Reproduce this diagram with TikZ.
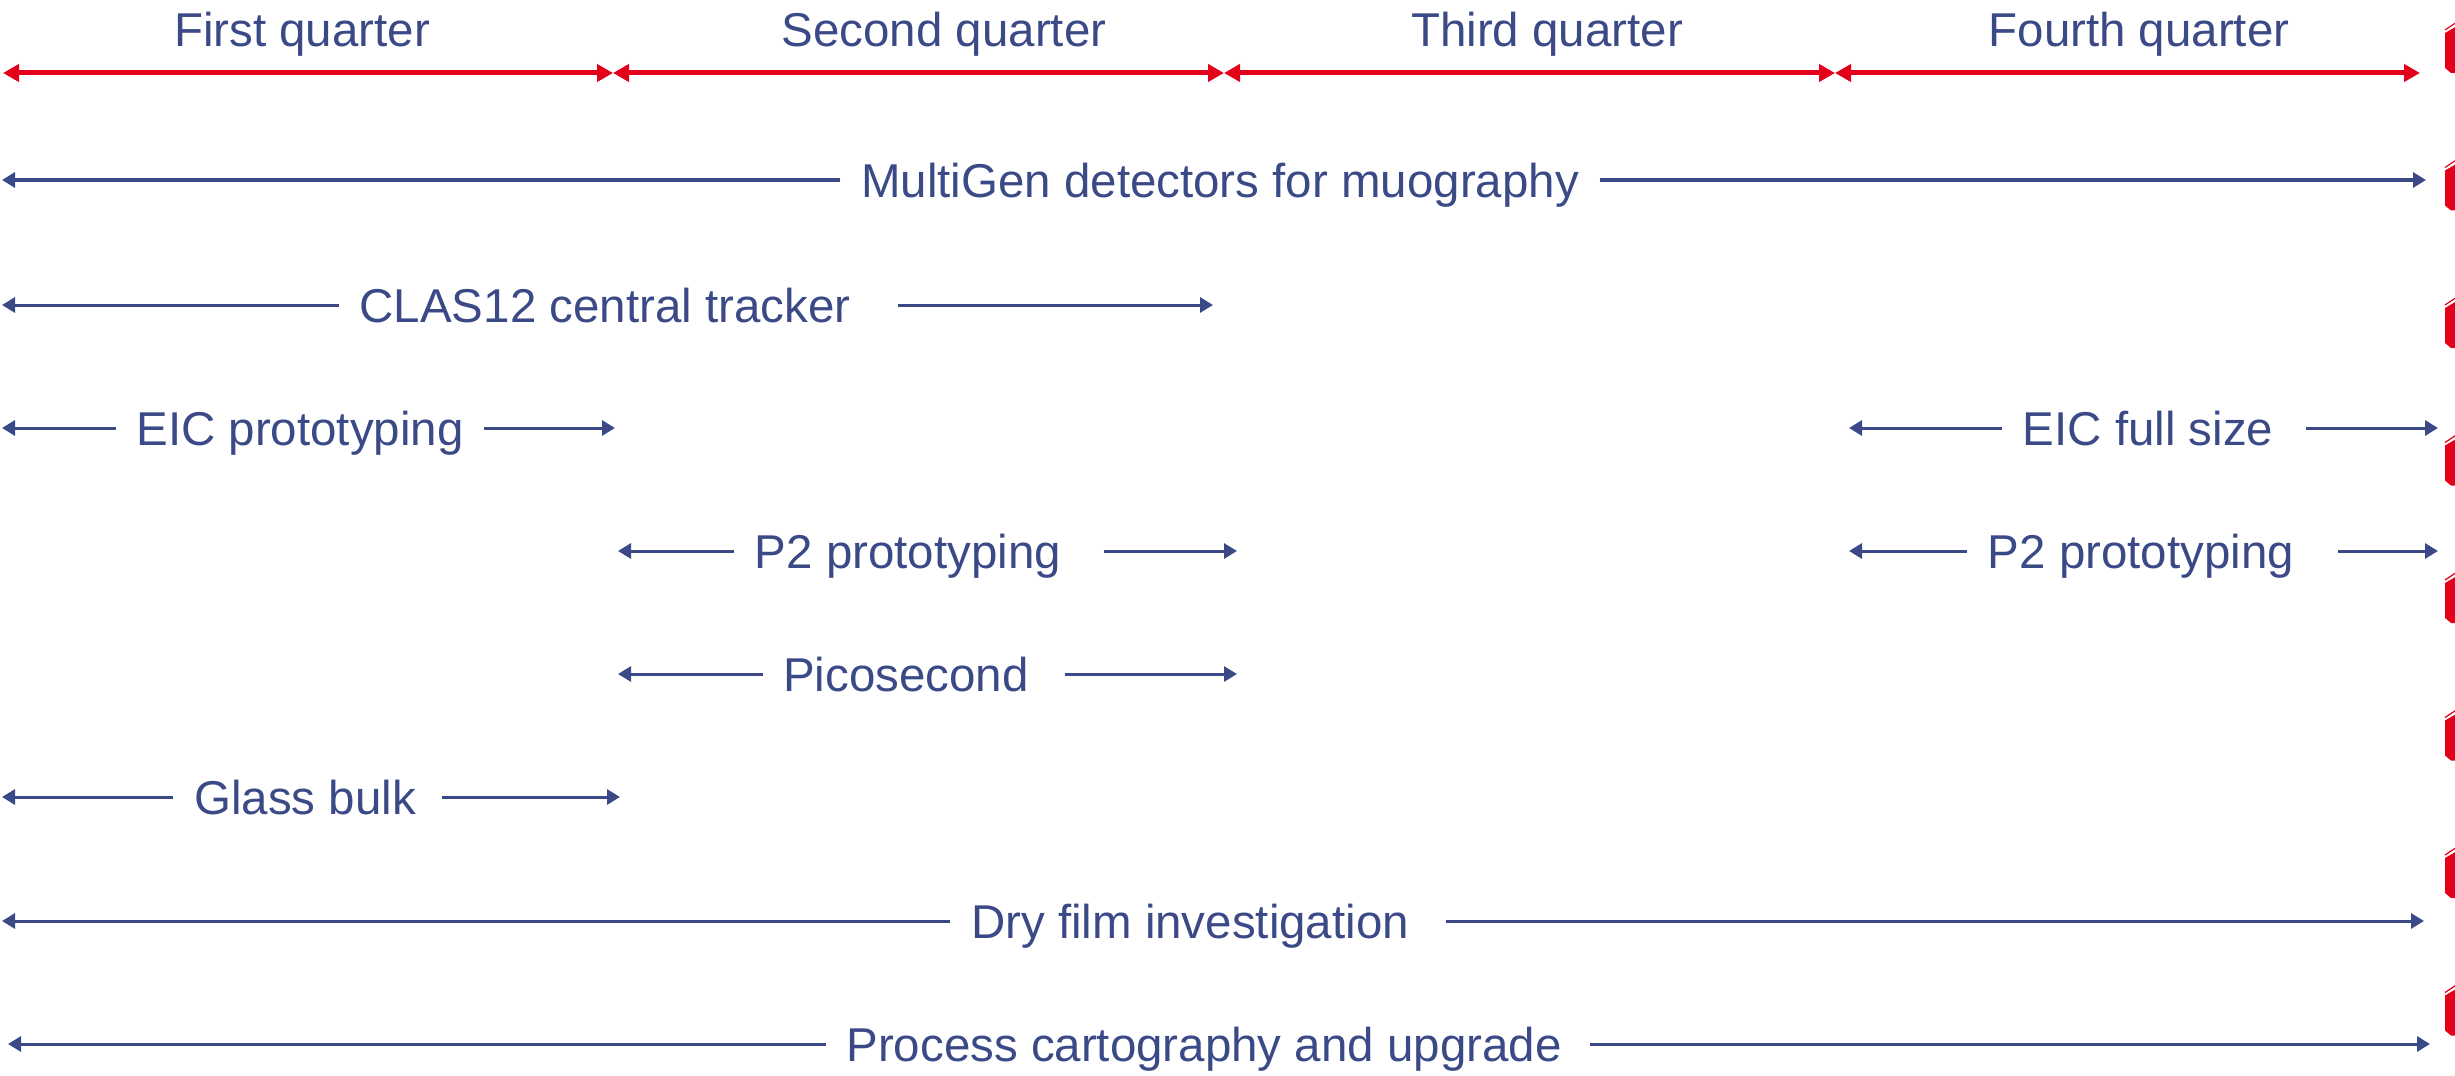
\documentclass[tikz,border=0pt]{standalone}
\usepackage{fontspec}
\setmainfont{Liberation Sans}
\usetikzlibrary{arrows.meta}
\definecolor{tblue}{HTML}{3B4A87}
\definecolor{tred}{HTML}{E2001A}
\newcommand\padr[1]{\rule{#1}{0pt}}
\begin{document}
\begin{tikzpicture}[x=0.01cm,y=-0.01cm,
  lbl/.style={text=tblue, font=\fontsize{13.5}{16}\selectfont, inner xsep=0.2cm, inner ysep=0pt, anchor=base},
  hdr/.style={text=tblue, font=\fontsize{13.5}{16}\selectfont, inner sep=0pt, anchor=base},
  barrow/.style={draw=tblue, line width=0.03cm, -{Triangle[length=0.13cm,width=0.15cm]}},
  rarrow/.style={draw=tred, line width=0.05cm, {Triangle[length=0.16cm,width=0.17cm]}-{Triangle[length=0.16cm,width=0.17cm]}}
  ]
\useasboundingbox (0,0) rectangle (2455,1076);

% header
\node[hdr] (h1) at (302,47) {First quarter};
\node[hdr] (h2) at (944,47) {Second quarter};
\node[hdr] (h3) at (1547,47) {Third quarter};
\node[hdr] (h4) at (2139,47) {Fourth quarter};
\coordinate (q0) at (3,73);
\coordinate (q1) at (613,73);
\coordinate (q2) at (1224,73);
\coordinate (q3) at (1835,73);
\coordinate (q4) at (2420,73);
\draw[rarrow] (q0) -- (q1);
\draw[rarrow] (q1) -- (q2);
\draw[rarrow] (q2) -- (q3);
\draw[rarrow] (q3) -- (q4);

% rows
\node[lbl] (r1) at (1220,197) {MultiGen detectors for muography};
\coordinate (r1l) at (2,180); \coordinate (r1r) at (2426,180);
\draw[barrow] (r1.west |- r1l) -- (r1l);
\draw[barrow] (r1.east |- r1r) -- (r1r);

\node[lbl] (r2) at (618.5,322) {CLAS12 central tracker\padr{0.27cm}};
\coordinate (r2l) at (2,305); \coordinate (r2r) at (1213,305);
\draw[barrow] (r2.west |- r2l) -- (r2l);
\draw[barrow] (r2.east |- r2r) -- (r2r);

\node[lbl] (r3a) at (300,445) {EIC prototyping};
\coordinate (r3al) at (2,428); \coordinate (r3ar) at (615,428);
\draw[barrow] (r3a.west |- r3al) -- (r3al);
\draw[barrow] (r3a.east |- r3ar) -- (r3ar);

\node[lbl] (r3b) at (2154,445) {EIC full size\padr{0.12cm}};
\coordinate (r3bl) at (1849,428); \coordinate (r3br) at (2438,428);
\draw[barrow] (r3b.west |- r3bl) -- (r3bl);
\draw[barrow] (r3b.east |- r3br) -- (r3br);

\node[lbl] (r4a) at (919,568) {P2 prototyping\padr{0.22cm}};
\coordinate (r4al) at (618,551); \coordinate (r4ar) at (1237,551);
\draw[barrow] (r4a.west |- r4al) -- (r4al);
\draw[barrow] (r4a.east |- r4ar) -- (r4ar);

\node[lbl] (r4b) at (2152.5,568) {P2 prototyping\padr{0.23cm}};
\coordinate (r4bl) at (1849,551); \coordinate (r4br) at (2438,551);
\draw[barrow] (r4b.west |- r4bl) -- (r4bl);
\draw[barrow] (r4b.east |- r4br) -- (r4br);

\node[lbl] (r5) at (914,691) {Picosecond\padr{0.16cm}};
\coordinate (r5l) at (618,674); \coordinate (r5r) at (1237,674);
\draw[barrow] (r5.west |- r5l) -- (r5l);
\draw[barrow] (r5.east |- r5r) -- (r5r);

\node[lbl] (r6) at (307.5,814) {Glass bulk\padr{0.05cm}};
\coordinate (r6l) at (2,797); \coordinate (r6r) at (620,797);
\draw[barrow] (r6.west |- r6l) -- (r6l);
\draw[barrow] (r6.east |- r6r) -- (r6r);

\node[lbl] (r7) at (1198,938) {Dry film investigation\padr{0.16cm}};
\coordinate (r7l) at (2,921); \coordinate (r7r) at (2424,921);
\draw[barrow] (r7.west |- r7l) -- (r7l);
\draw[barrow] (r7.east |- r7r) -- (r7r);

\node[lbl] (r8) at (1208,1061) {Process cartography and upgrade\padr{0.08cm}};
\coordinate (r8l) at (8,1044); \coordinate (r8r) at (2430,1044);
\draw[barrow] (r8.west |- r8l) -- (r8l);
\draw[barrow] (r8.east |- r8r) -- (r8r);

% red cube edges at the right border
\begin{scope}
\clip (0,0) rectangle (2455,1076);
\foreach \t in {23,160.5,298,435.5,573,710.5,848,985.5}{
  \fill[tred] (2445,\t+10) -- (2457,\t+3) -- (2457,\t+50) -- (2451,\t+50) -- (2445,\t+45) -- cycle;
  \draw[tred, line width=0.012cm] (2445,\t+7) -- (2457,\t-1);
}
\end{scope}
\end{tikzpicture}
\end{document}
